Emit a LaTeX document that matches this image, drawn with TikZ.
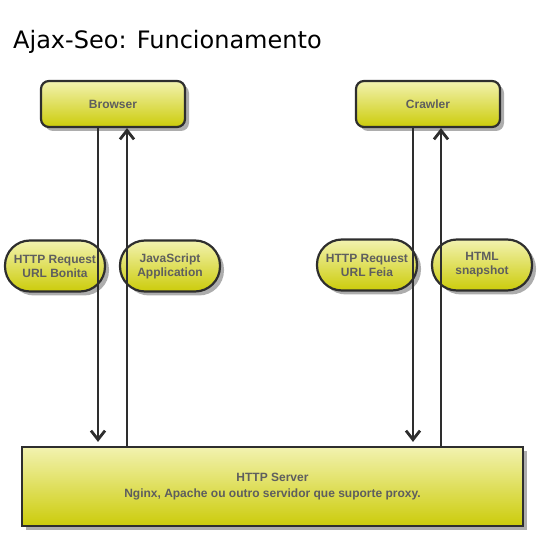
\documentclass[tikz,border=0pt]{standalone}
\usepackage{fontspec}
\setmainfont{Liberation Sans}
\newfontfamily\titlefont{DejaVu Sans}
\usetikzlibrary{shadows,arrows.meta}
\definecolor{yelltop}{rgb}{0.95,0.95,0.69}
\definecolor{yellbot}{rgb}{0.80,0.80,0.04}
\definecolor{edgegray}{rgb}{0.18,0.18,0.18}
\definecolor{textgray}{rgb}{0.37,0.37,0.37}
\definecolor{shadowgray}{rgb}{0.68,0.68,0.68}

\begin{document}
\begin{tikzpicture}[x=1pt,y=-1pt,
    box/.style={draw=edgegray,line width=2.2pt,top color=yelltop,bottom color=yellbot,
        drop shadow={shadow xshift=4pt,shadow yshift=-4pt,fill=shadowgray,opacity=1},
        font=\bfseries\fontsize{12}{14}\selectfont,text=textgray,align=center,inner sep=0pt},
    client/.style={box,rounded corners=8pt,minimum width=144pt,minimum height=46pt},
    pill/.style={box,rounded corners=25pt,minimum width=100pt,minimum height=51pt},
    flow/.style={draw=edgegray,line width=2.8pt,-{Straight Barb[length=9pt,width=14pt]}}]
    \useasboundingbox (0,0) rectangle (550,540);
    \node[anchor=base west,inner sep=0pt,font=\titlefont\fontsize{24}{28}\selectfont] (title) at (13,49) {Ajax-Seo: Funcionamento};
    % clients and server
    \node[client] (browser) at (113,104) {Browser};
    \node[client] (crawler) at (428,104) {Crawler};
    \node[box,minimum width=501pt,minimum height=79pt,font=\bfseries\fontsize{12}{16}\selectfont] (server) at (272.5,486.5)
        {HTTP Server\\Nginx, Apache ou outro servidor que suporte proxy.};
    % labels of the flows
    \node[pill] (bonita) at (55,266) {HTTP Request\\URL Bonita};
    \node[pill] (jsapp) at (170,266) {JavaScript\\Application};
    \node[pill] (feia) at (367,265) {HTTP Request\\URL Feia};
    \node[pill] (snapshot) at (482,265) {HTML\\snapshot};
    % flows
    \draw[flow,shorten >=4pt] ([xshift=-15pt]browser.south) -- ([xshift=-15pt]browser.south |- server.north);
    \draw[flow] ([xshift=14pt]browser.south |- server.north) -- ([xshift=14pt]browser.south);
    \draw[flow,shorten >=4pt] ([xshift=-15pt]crawler.south) -- ([xshift=-15pt]crawler.south |- server.north);
    \draw[flow] ([xshift=13pt]crawler.south |- server.north) -- ([xshift=13pt]crawler.south);
\end{tikzpicture}
\end{document}
